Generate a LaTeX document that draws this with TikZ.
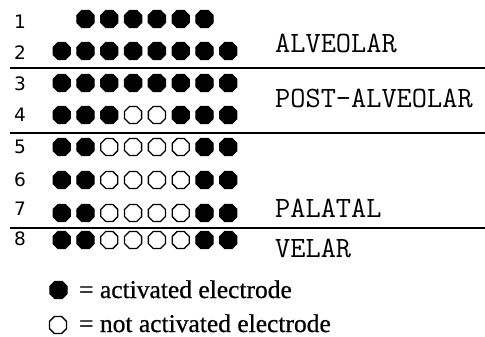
\documentclass[tikz,border=0pt]{standalone}
\usepackage{fontspec}
\setmainfont{Liberation Serif}
\newfontfamily\numf{DejaVu Sans}
\usetikzlibrary{shapes.geometric}
\begin{document}
\begin{tikzpicture}[x=1pt,y=-1pt,
  dot/.style={regular polygon, regular polygon sides=8, minimum size=18.5pt, inner sep=0pt, draw=black, line width=1.3pt},
  num/.style={font=\numf\fontsize{18.5}{18.5}\selectfont, inner sep=0pt},
  lbl/.style={font=\ttfamily\addfontfeatures{FakeBold=1.2}\fontsize{29.5}{29.5}\selectfont, inner sep=0pt, anchor=base west},
  leg/.style={font=\addfontfeatures{FakeBold=0.6}\fontsize{25.5}{25.5}\selectfont, inner sep=0pt, anchor=base west},
  sep/.style={line width=2pt}]
\useasboundingbox (0,0) rectangle (485,337);
\fill[white] (0,0) rectangle (485,337);
% row 1
\foreach \c in {2,...,7} \node[dot, fill=black] (d1-\c) at ({61.7+23.8*(\c-1)},19) {};
% rows 2 and 3
\foreach \r/\y in {2/51,3/83} \foreach \c in {1,...,8} \node[dot, fill=black] (d\r-\c) at ({61.7+23.8*(\c-1)},\y) {};
% row 4
\foreach \c/\f in {1/black,2/black,3/black,4/white,5/white,6/black,7/black,8/black}
  \node[dot, fill=\f] (d4-\c) at ({61.7+23.8*(\c-1)},115) {};
% rows 5-8
\foreach \r/\y in {5/147,6/180,7/213,8/240}
  \foreach \c/\f in {1/black,2/black,3/white,4/white,5/white,6/white,7/black,8/black}
    \node[dot, fill=\f] (d\r-\c) at ({61.7+23.8*(\c-1)},\y) {};
% row numbers
\foreach \r/\y in {1/22,2/53,3/84,4/115,5/147,6/180,7/209,8/239}
  \node[num] (n\r) at (20,\y) {\r};
% separators
\coordinate (s1a) at (10,68);  \coordinate (s1b) at (485,68);
\coordinate (s2a) at (10,133); \coordinate (s2b) at (485,133);
\coordinate (s3a) at (10,228); \coordinate (s3b) at (485,228);
\draw[sep] (s1a) -- (s1b);
\draw[sep] (s2a) -- (s2b);
\draw[sep] (s3a) -- (s3b);
% region labels
\node[lbl] (alv) at (275,53) {ALVEOLAR};
\node[lbl] (post) at (275,107) {POST-ALVEOLAR};
\node[lbl] (pal) at (275,217) {PALATAL};
\node[lbl] (vel) at (275,257) {VELAR};
% legend
\node[dot, fill=black] (legon) at (58.5,290) {};
\node[dot, fill=white] (legoff) at (58,325) {};
\node[leg] (legt1) at (79,298) {= activated electrode};
\node[leg] (legt2) at (79,332) {= not activated electrode};
\end{tikzpicture}
\end{document}
